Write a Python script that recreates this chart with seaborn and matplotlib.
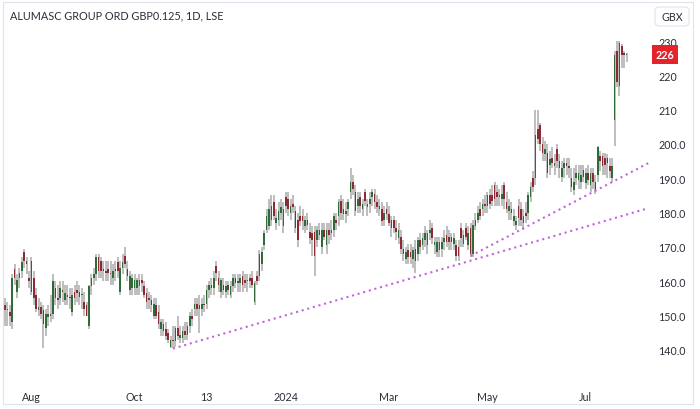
import numpy as np
import pandas as pd
import matplotlib
matplotlib.use("Agg")
import matplotlib.pyplot as plt
import matplotlib.transforms as mtransforms
from matplotlib.patches import FancyBboxPatch, Rectangle
import seaborn as sns

title = "ALUMASC GROUP ORD GBP0.125, 1D, LSE"
currency = "GBX"
first_day = "2023-07-17"
uk_holidays = ["2023-08-28", "2023-12-25", "2023-12-26", "2024-01-01",
               "2024-03-29", "2024-04-01", "2024-05-06", "2024-05-27"]

# daily OHLC (pence)
open_ = [
    153, 151.5, 151, 148, 163.5, 157, 161, 163, 168.5, 166,
    161, 157, 161, 156, 151.5, 152.5, 151.5, 146.5, 149.5, 150.5,
    150.5, 158, 155, 155, 157.5, 154.5, 156, 155.5, 151, 157,
    157.5, 157, 156, 154, 153, 147, 158.5, 161, 162, 167,
    166, 163.5, 163, 163.5, 162, 161, 163.5, 165.5, 157, 164,
    167.5, 163.5, 157.5, 158, 158, 158, 158.5, 160.5, 158.5, 156.5,
    155, 154.5, 150, 153, 151, 146, 147.5, 146, 145, 141,
    143, 142.5, 146.5, 143.5, 143.5, 145.5, 144.5, 147, 150, 152,
    153.5, 153, 152, 153.5, 153.5, 157.5, 159, 158, 164.5, 161,
    157, 159, 157, 159, 156, 158.5, 161, 159.5, 159.5, 161.5,
    160.5, 160, 161, 161, 154, 161.5, 161.5, 165, 170.5, 175,
    176, 178, 183, 177, 178, 180, 176, 184.5, 184, 180,
    182.5, 180.5, 178, 179, 179, 176, 178, 174.5, 174, 174.5,
    172, 175, 170, 175, 170.5, 175, 174, 175, 178, 179,
    183.5, 181, 179.5, 181, 186, 189, 186, 182, 184.5, 181,
    186, 181.5, 182.5, 184.5, 185.5, 183, 182, 181, 178, 181,
    179.5, 175.5, 178, 175.5, 172.5, 173, 169.5, 166.5, 169, 168.5,
    166.5, 169.5, 168, 172, 170.5, 172, 170.5, 174, 175.5, 170.5,
    168.5, 169, 169.5, 171.5, 173.5, 173, 173, 171, 170.5, 170,
    175.5, 171, 175.5, 170.5, 175.5, 168, 176, 178, 181, 181,
    182.5, 182, 185, 185, 188, 186, 184.5, 184, 188, 183,
    180.5, 181, 177.5, 176.5, 182, 181, 177, 180, 180, 184.5,
    190, 190, 204.5, 205.5, 200, 197, 197.5, 194, 196, 193.5,
    198.5, 195, 190.5, 193, 194.5, 193.5, 190, 186.5, 190, 189.5,
    189, 192.5, 188.5, 191.5, 188, 191.5, 189, 191, 196.5, 196.5,
    196, 196, 193.5, 190, 207, 227, 217, 228.5, 226.5, 226,
]
high = [
    155, 154, 153, 162, 165, 162, 164, 167, 169.5, 167,
    163, 167, 163, 158, 155, 154, 153, 152, 153, 156,
    162, 160, 159, 160, 160, 159, 159, 158, 158, 159,
    160, 159, 158, 157, 154, 159, 162, 164, 168, 168,
    167, 166, 166, 166, 166, 165, 166, 167, 166, 168,
    170, 166, 163, 162, 162, 161, 162, 162, 160, 158,
    157, 156, 155, 155, 153, 149, 149, 148, 146, 144,
    147, 147, 150, 147, 147, 148, 148, 151, 152, 155,
    155, 156, 155, 156, 159, 160, 161, 163, 166, 163,
    161, 161, 160, 160, 160, 162, 162, 162, 162, 163,
    162, 162, 162, 163, 160, 163, 169, 170, 175, 181,
    184, 185, 185, 181, 183, 184, 183, 186, 186, 184,
    185, 182, 180, 182, 181, 179, 180, 177, 176, 176,
    176, 177, 177, 177, 177, 177, 178, 180, 180, 184,
    185, 184, 183, 184, 193, 191, 188, 186, 186, 184,
    187, 184, 186, 187, 187, 185, 184, 183, 182, 183,
    182, 179, 179, 178, 177, 175, 172, 170, 171, 171,
    170, 172, 173, 174, 174, 176, 175, 178, 177, 173,
    173, 173, 173, 175, 176, 175, 174, 174, 172, 172,
    177, 175, 177, 176, 177, 178, 180, 182, 183, 184,
    185, 186, 187, 188, 189, 188, 187, 188, 189, 186,
    184, 183, 181, 179, 184, 183, 181, 183, 186, 189,
    192, 210, 210, 206, 202, 201, 200, 198, 199, 197,
    200, 197, 195, 196, 196, 196, 193, 193, 194, 194,
    194, 194, 193, 194, 193, 193, 191, 199.5, 198, 197.5,
    197.5, 197, 196, 196, 227, 230, 230, 229, 227, 226.5,
]
low = [
    147, 147, 147, 146, 159, 155, 158, 161, 164, 162,
    158, 156, 153, 151, 150, 149, 140.5, 144, 147, 148,
    149, 153, 152, 153, 154, 153, 153, 152, 150, 153,
    154, 153, 152, 150, 150, 146, 156, 159, 160, 161,
    161, 160, 160, 160, 159, 159, 160, 161, 156, 162,
    164, 160, 156, 156, 156, 156, 156, 157, 155, 152,
    152, 151, 149, 149, 146, 144, 144, 143, 142, 140.5,
    140.5, 141, 143, 142, 142, 143, 143, 145, 147, 150,
    150, 145, 150, 151, 152, 155, 156, 156, 160, 157,
    155, 156, 155, 156, 155, 157, 158, 157, 157, 157,
    158, 157, 158, 158, 153, 159, 160, 163, 169, 174,
    175, 176, 178, 175, 176, 178, 174, 180, 179, 178,
    180, 174, 170, 176, 175, 174, 175, 171, 167.5, 161.5,
    170, 172, 168, 172, 168, 171, 172, 173, 175, 176,
    178, 178, 177, 179, 184, 185, 179, 180, 180, 179,
    182, 179, 180, 182, 181, 180, 179, 176, 176, 178,
    176, 173, 174, 172, 171, 168, 166, 165, 165, 165,
    164, 162.3, 166, 168, 169, 170, 168, 172, 171, 168,
    167, 167, 167, 169, 170, 169, 169, 169, 166, 166,
    170, 170, 172, 169, 167, 167, 175, 177, 178, 179,
    180, 180, 181, 182, 182, 182, 182, 182, 181, 180,
    178, 178, 176, 175, 176, 176, 175, 177, 178, 183,
    186, 188, 200, 198, 195, 195, 190, 191, 193, 191,
    193, 190, 189, 190, 191, 190, 186, 185, 188, 187,
    187, 189, 187, 188, 186, 187, 185.5, 189, 192, 191,
    191, 190, 190, 189, 199.5, 216.5, 214, 222, 222, 224,
]
close = [
    151.5, 152, 150, 161, 161, 160.5, 162.5, 165.5, 166, 165,
    160, 166, 155, 152, 152.5, 150.5, 147.5, 150.5, 150.5, 150,
    160, 155, 154.5, 158, 157, 156.5, 155.5, 155, 156, 155,
    156.5, 155.5, 156, 152, 150, 158.5, 161, 162, 167, 163,
    163, 163, 162.5, 162.5, 162.5, 163, 163, 163, 164, 165.5,
    165, 161.5, 161.5, 161, 160.5, 160.5, 160.5, 159.5, 156, 154,
    154.5, 153, 153.5, 150, 147.5, 148, 145.5, 144, 143, 143,
    142.5, 146.5, 144, 144.5, 145.5, 144.5, 147, 150, 149, 153.5,
    152, 152, 153.5, 153, 157.5, 159, 158, 161, 162.5, 159,
    160.5, 157.5, 158.5, 157.5, 158.5, 161, 159.5, 160, 161, 159,
    159.5, 160.5, 160, 159, 159.5, 160, 168, 168.5, 174, 179,
    181, 182, 179, 178.5, 180.5, 181.5, 181, 182, 181, 182,
    181.5, 175.5, 172, 177.5, 177.5, 178, 176.5, 172.5, 172, 167.5,
    175, 173.5, 175, 173, 175, 173.5, 175, 179, 177, 183,
    180, 179.5, 180.5, 183, 189, 187, 180.5, 184, 182, 182.5,
    183.5, 182.5, 184, 186, 183, 181.5, 181, 177.5, 180, 179.5,
    177, 178, 175.5, 174.5, 175, 169.5, 168, 168.5, 167, 167,
    169, 166, 172, 170, 172.5, 174, 174, 175, 172.5, 171.5,
    171.5, 171.5, 171.5, 172.5, 171.5, 171.5, 171.5, 172.5, 167.5, 167.5,
    172.5, 173.5, 173, 174, 168, 176.5, 178, 180, 179, 182.5,
    182, 185, 182.5, 183.5, 184, 184.5, 185, 185.5, 184, 181,
    182, 180, 179, 177.5, 178.5, 178, 179, 179, 185, 187.5,
    187.5, 202.5, 201.5, 200, 197.5, 198.5, 191.5, 195.5, 194.5, 194.5,
    195, 193, 193, 194.5, 193.5, 193, 187.5, 189, 191.5, 191.5,
    191, 190.5, 191.5, 189.5, 191.5, 189, 186.5, 199, 195, 193.5,
    194, 194.5, 192, 193.5, 226, 218, 229.5, 226, 226, 226,
]

# drawn trend lines (anchor date, price)
trend_low_dates = ["2023-10-24", "2024-08-06"]
trend_low_prices = [140.4, 181.3]
trend_up_dates = ["2024-04-22", "2024-08-06"]
trend_up_prices = [167.4, 194.4]

tick_dates = ["2023-08-01", "2023-10-02", "2023-11-13", "2024-01-02",
              "2024-03-01", "2024-05-01", "2024-07-01"]
tick_labels = ["Aug", "Oct", "13", "2024", "Mar", "May", "Jul"]
price_ticks = [140, 150, 160, 170, 180, 190, 200, 210, 220, 230]
price_labels = ["140.0", "150.0", "160.0", "170.0", "180.0", "190.0",
                "200.0", "210", "220", "230"]
last_price = 226

green = "#2f6b38"
red = "#8c2a33"
wick = "#b0b0b0"
purple = "#c266d9"
text_col = "#2a2e39"

sns.set_theme(style="white")
plt.rcParams["font.family"] = ["Lato", "DejaVu Sans"]

days = pd.bdate_range(first_day, periods=len(close) + 15, freq="C",
                      holidays=uk_holidays)
pos = pd.Series(np.arange(len(days), dtype=float), index=days)

df = pd.DataFrame({"x": pos.values[:len(close)], "o": open_, "h": high,
                   "l": low, "c": close})
df["up"] = df["c"] >= df["o"]

fig = plt.figure(figsize=(7, 4.1), dpi=100)
ax = fig.add_axes([3 / 700, 30 / 410, 647 / 700, 376 / 410])

ax.vlines(df["x"], df["l"], df["h"], color=wick, lw=1.15, zorder=2)
body = (df["c"] - df["o"]).abs().clip(lower=0.35)
ax.bar(df["x"], body, bottom=df[["o", "c"]].min(axis=1), width=0.66,
       color=np.where(df["up"], green, red), linewidth=0, zorder=3)

for d, p in [(trend_low_dates, trend_low_prices), (trend_up_dates, trend_up_prices)]:
    tl = pd.DataFrame({"x": pos[pd.to_datetime(d)].values, "price": p})
    sns.lineplot(data=tl, x="x", y="price", ax=ax, color=purple, lw=1.5,
                 linestyle=(0, (1, 1.8)), zorder=4)

ax.set_xlim(-0.83, 268.75)
ax.set_ylim(131.54, 241.07)
ax.set_xlabel("")
ax.set_ylabel("")
ax.grid(False)
for sp in ax.spines.values():
    sp.set_visible(False)

ax.yaxis.tick_right()
ax.set_yticks(price_ticks)
ax.set_yticklabels(price_labels)
ax.tick_params(axis="y", length=0, pad=6, labelsize=7.7, labelcolor=text_col)
ax.set_xticks(pos[pd.to_datetime(tick_dates)].values)
ax.set_xticklabels(tick_labels)
ax.tick_params(axis="x", length=0, pad=9, labelsize=7.7, labelcolor=text_col)

# last price tag
trans = mtransforms.blended_transform_factory(ax.transAxes, ax.transData)
ax.text(1 + 15 / 647, last_price, str(last_price), transform=trans,
        ha="center", va="center", fontsize=7.7, color="white",
        fontweight="bold", clip_on=False,
        bbox=dict(boxstyle="square,pad=0.38", fc="#e3242b", ec="none"))

fig.text(10 / 700, 1 - 16 / 410, title, ha="left", va="center",
         fontsize=7.8, color=text_col)

# currency box and outer frame
fig.patches.append(FancyBboxPatch((655 / 700, 1 - 27 / 410), 34 / 700, 19 / 410,
                                  boxstyle="round,pad=0,rounding_size=0.008",
                                  transform=fig.transFigure, fc="white",
                                  ec="#e0e3eb", lw=0.8))
fig.text(672 / 700, 1 - 17.5 / 410, currency, ha="center", va="center",
         fontsize=7.7, color=text_col)
fig.patches.append(Rectangle((3 / 700, 5 / 410), 690 / 700, 402 / 410,
                             transform=fig.transFigure, fill=False,
                             ec="#e0e3eb", lw=0.8))

fig.savefig("out.png", dpi=100)
